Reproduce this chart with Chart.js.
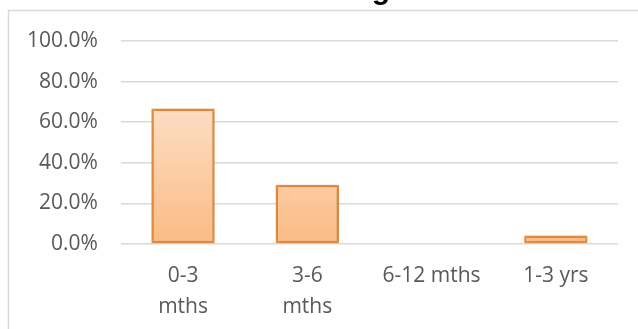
<!DOCTYPE html>
<html>
<head>
<meta charset="utf-8">
<script src="https://cdn.jsdelivr.net/npm/chart.js@4/dist/chart.umd.min.js"></script>
<style>
  html, body { margin: 0; padding: 0; background: #fff; }
  #wrap { width: 638px; height: 329px; position: relative; }
</style>
</head>
<body>
<div id="wrap"><canvas id="lengthChart" width="638" height="329"></canvas></div>
<script>
var categories = [['0-3', 'mths'], ['3-6', 'mths'], '6-12 mths', '1-3 yrs'];
var shares = [66.7, 29.2, 0, 4.2];
var yTicks = [0, 20, 40, 60, 80, 100];

var labelGrey = '#595959';
var gridGrey = '#d9d9d9';

// frame + the bottom of the cut-off title
var framePlugin = {
    id: 'frame',
    beforeDraw: function(chart) {
        var c = chart.ctx;
        c.save();
        c.strokeStyle = gridGrey;
        c.lineWidth = 1.5;
        c.strokeRect(8.5, 10.5, 700, 400);
        c.restore();
    },
    afterDraw: function(chart) {
        var c = chart.ctx;
        c.save();
        c.fillStyle = '#000';
        c.font = 'bold 30px "Liberation Sans"';
        c.textAlign = 'center';
        c.textBaseline = 'alphabetic';
        c.fillText('g', 381, -1);
        c.restore();
    }
};

var shadowPlugin = {
    id: 'barShadow',
    beforeDatasetsDraw: function(chart) {
        var c = chart.ctx;
        c.save();
        c.shadowColor = 'rgba(0,0,0,0.22)';
        c.shadowBlur = 4;
    },
    afterDatasetsDraw: function(chart) {
        chart.ctx.restore();
    }
};

function barFill(context) {
    var chart = context.chart;
    var area = chart.chartArea;
    if (!area) return '#fcd3b0';
    var el = context.element;
    var top = el && isFinite(el.y) ? el.y : area.top;
    var bottom = chart.scales.y.getPixelForValue(0);
    if (bottom - top < 2) top = bottom - 2;
    var g = chart.ctx.createLinearGradient(0, top, 0, bottom);
    g.addColorStop(0, '#feeee3');
    g.addColorStop(1, '#fbbb84');
    return g;
}

var ctx = document.getElementById('lengthChart').getContext('2d');
var lengthChart = new Chart(ctx, {
    type: 'bar',
    data: {
        labels: categories,
        datasets: [{
            data: shares,
            backgroundColor: barFill,
            borderColor: '#f0913f',
            borderWidth: 2.5,
            borderSkipped: false,
            categoryPercentage: 1,
            barPercentage: 0.51
        }]
    },
    options: {
        responsive: false,
        animation: false,
        layout: { padding: { left: 4, right: 20, top: 41, bottom: -2 } },
        plugins: {
            legend: { display: false },
            tooltip: { enabled: false }
        },
        scales: {
            x: {
                grid: { display: false },
                border: { display: false },
                ticks: {
                    color: labelGrey,
                    font: { family: 'Open Sans', size: 21, lineHeight: 1.5 },
                    padding: 8,
                    maxRotation: 0,
                    autoSkip: false
                }
            },
            y: {
                min: 0,
                max: 100,
                afterBuildTicks: function(axis) {
                    axis.ticks = yTicks.map(function(v) { return { value: v }; });
                },
                grid: { color: gridGrey, lineWidth: 1.5, drawTicks: false },
                border: { display: false },
                ticks: {
                    color: labelGrey,
                    font: { family: 'Open Sans', size: 21 },
                    padding: 23,
                    callback: function(v) { return v.toFixed(1) + '%'; }
                }
            }
        }
    },
    plugins: [framePlugin, shadowPlugin]
});
</script>
</body>
</html>
